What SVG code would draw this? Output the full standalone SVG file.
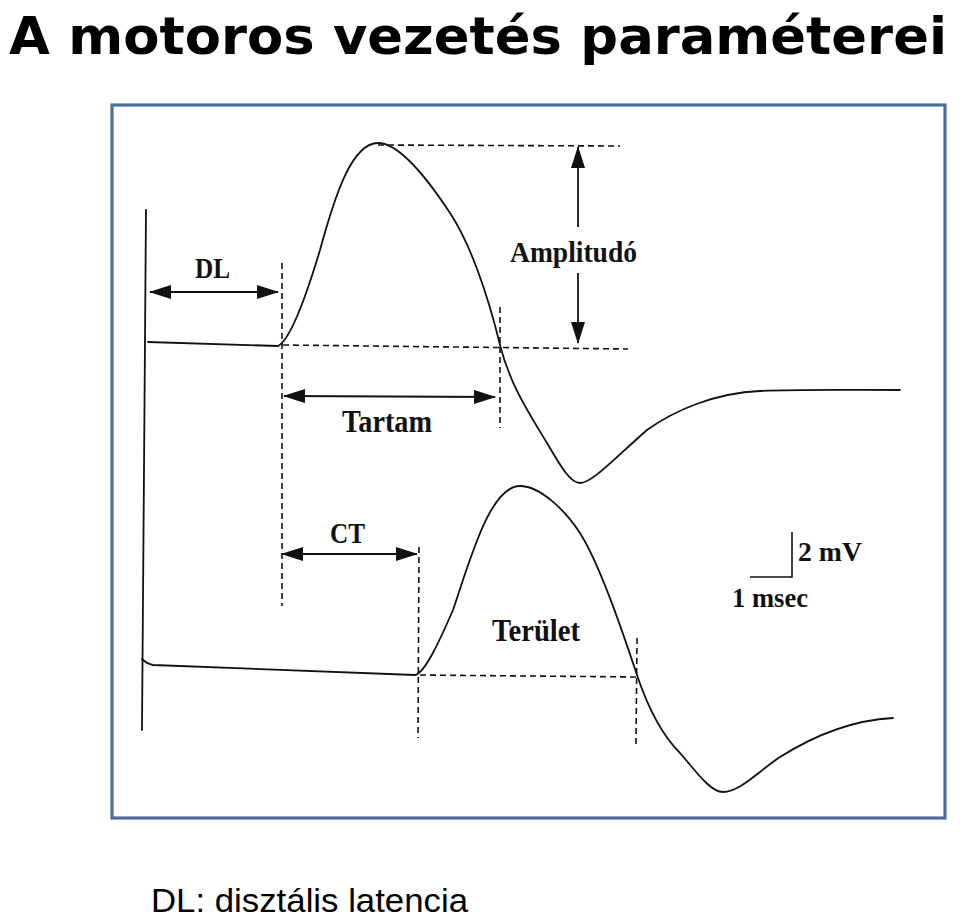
<svg xmlns="http://www.w3.org/2000/svg" width="960" height="919" viewBox="0 0 960 919">
<style>
.title{font-family:"Comic Sans MS","DejaVu Sans","Liberation Sans",sans-serif;font-weight:bold;font-size:52px;fill:#000}
.lbl{font-family:"Liberation Serif","Times New Roman",serif;font-weight:bold;fill:#111}
.cap{font-family:"Liberation Sans",Arial,sans-serif;font-size:34px;fill:#000}
.trace{fill:none;stroke:#111;stroke-width:1.8;stroke-linejoin:round;stroke-linecap:round}
.dash{fill:none;stroke:#111;stroke-width:1.6;stroke-dasharray:6 4}
.arr{fill:none;stroke:#111;stroke-width:1.8}
.bar{fill:none;stroke:#111;stroke-width:1.6}
</style>
<defs>
<marker id="ah" viewBox="0 0 22 14" refX="21" refY="7" markerWidth="22" markerHeight="14" orient="auto-start-reverse" markerUnits="userSpaceOnUse">
<path d="M0,0 L22,7 L0,14 Z" fill="#111"/>
</marker>
</defs>
<rect width="960" height="919" fill="#fff"/>
<text class="title" x="9" y="54" textLength="938" lengthAdjust="spacingAndGlyphs">A motoros vezetés paraméterei</text>
<g id="frame">
<rect x="112" y="105" width="833" height="713" fill="none" stroke="#4d6d9f" stroke-width="3.2"/>
</g>
<g id="traces">
<path class="trace" d="M146,210 L142,730"/>
<path class="trace" d="M148,342 L278,346 C290,340 305,300 320,250 C335,195 352,143 378,143 C398,143 425,175 450,213 C470,243 488,295 500,345 C510,385 530,415 547,443 C560,465 570,483 580,483 C592,483 615,458 647,430 C675,410 715,393 760,391 C800,389 850,390 900,390"/>
<path class="trace" d="M142,659 C145,662 148,664 153,665 L415,675 C425,673 440,640 453,610 C470,560 490,486 520,486 C540,486 565,510 580,533 C600,565 622,630 637,675 C647,705 662,735 680,753 C695,770 710,792 723,792 C740,792 760,770 780,757 C815,735 855,720 893,718"/>
</g>
<g id="guides">
<path class="dash" d="M378,145 L620,146"/>
<path class="dash" d="M283,345 L628,349"/>
<path class="dash" d="M282,263 L282,606"/>
<path class="dash" d="M500,307 L500,428"/>
<path class="dash" d="M419,547 L418,738"/>
<path class="dash" d="M420,675 L636,677"/>
<path class="dash" d="M637,638 L636,744"/>
</g>
<g id="connectors">
<path class="arr" d="M150,292 L278,292" marker-start="url(#ah)" marker-end="url(#ah)"/>
<path class="arr" d="M284,396 L495,397" marker-start="url(#ah)" marker-end="url(#ah)"/>
<path class="arr" d="M282,554 L417,554" marker-start="url(#ah)" marker-end="url(#ah)"/>
<path class="arr" d="M578,227 L578,147" marker-end="url(#ah)"/>
<path class="arr" d="M578,273 L578,343" marker-end="url(#ah)"/>
</g>
<g id="scalebar">
<path class="bar" d="M792,532 L792,577 L750,577"/>
</g>
<g id="label-DL"><text class="lbl" font-size="25" transform="translate(195,278) scale(1,1.15)" textLength="35" lengthAdjust="spacingAndGlyphs">DL</text></g>
<g id="label-Tartam"><text class="lbl" font-size="27" transform="translate(342,432) scale(1,1.15)" textLength="90" lengthAdjust="spacingAndGlyphs">Tartam</text></g>
<g id="label-Amplitudo"><text class="lbl" font-size="27" transform="translate(510,262) scale(1,1.12)" textLength="127" lengthAdjust="spacingAndGlyphs">Amplitudó</text></g>
<g id="label-CT"><text class="lbl" font-size="25" transform="translate(330,543) scale(1,1.15)" textLength="35" lengthAdjust="spacingAndGlyphs">CT</text></g>
<g id="label-Terulet"><text class="lbl" font-size="27" transform="translate(492,641) scale(1,1.15)" textLength="88" lengthAdjust="spacingAndGlyphs">Terület</text></g>
<g id="label-2mV"><text class="lbl" font-size="27" transform="translate(798,561) scale(1,1.05)" textLength="64" lengthAdjust="spacingAndGlyphs">2 mV</text></g>
<g id="label-1msec"><text class="lbl" font-size="27" transform="translate(732,607) scale(1,1.05)" textLength="76" lengthAdjust="spacingAndGlyphs">1 msec</text></g>
<text class="cap" x="151" y="912" textLength="317" lengthAdjust="spacingAndGlyphs">DL: disztális latencia</text>
</svg>
